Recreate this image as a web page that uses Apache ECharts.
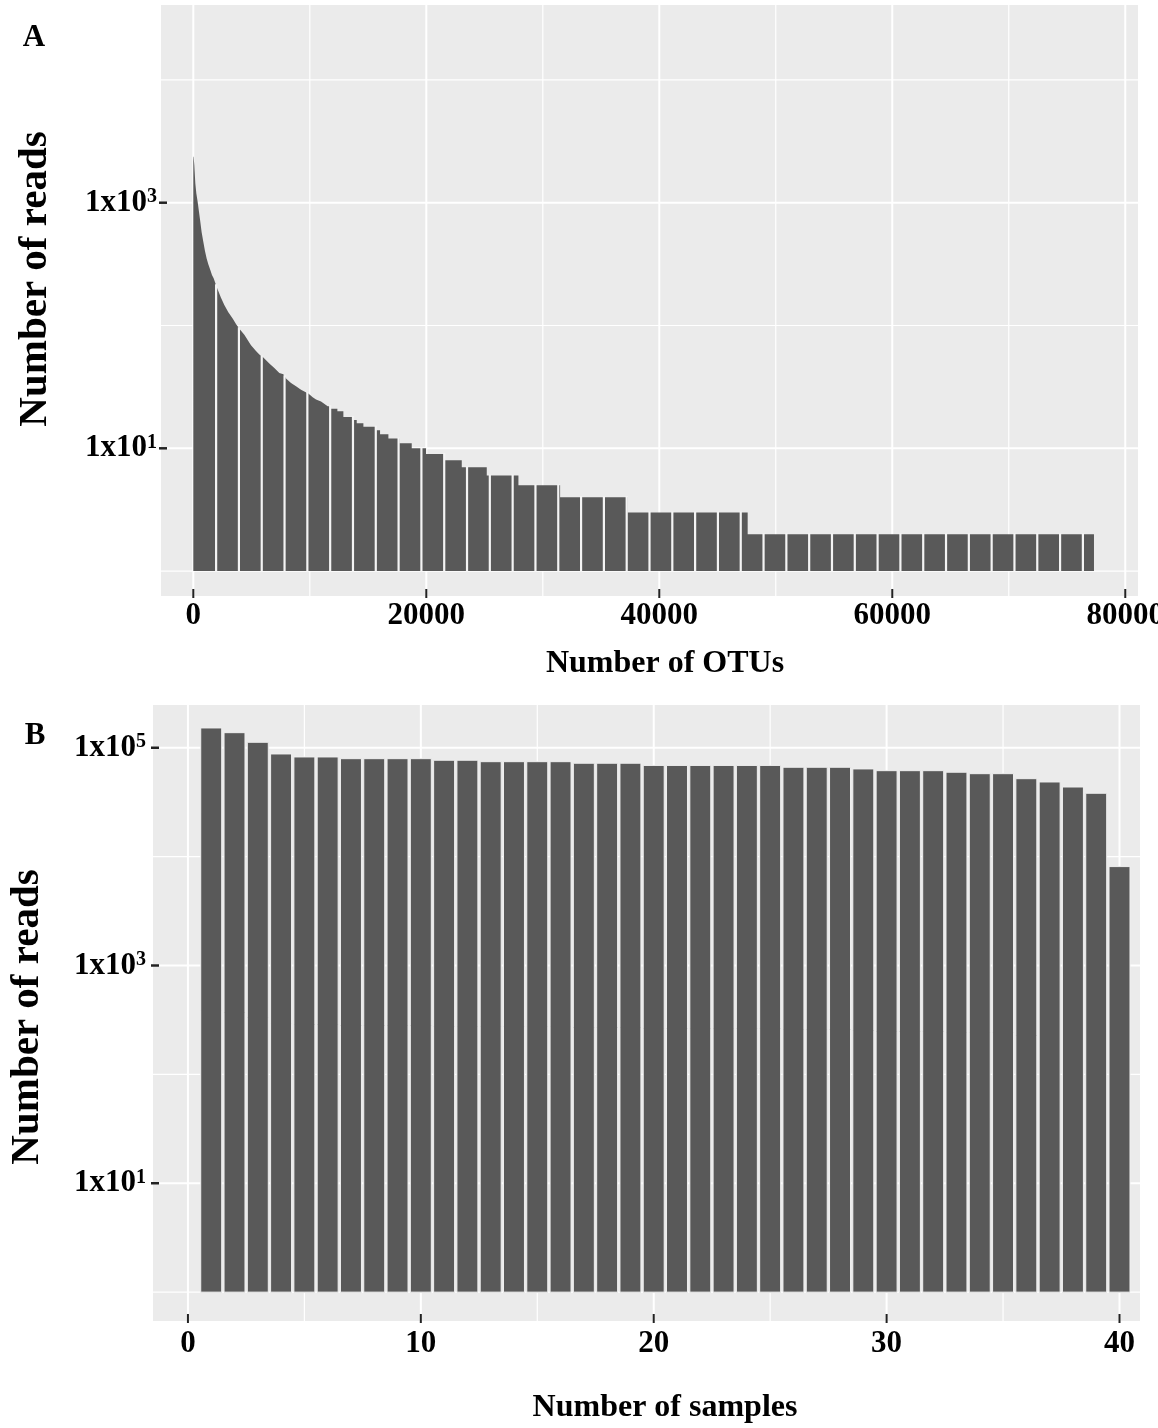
<!DOCTYPE html>
<html>
<head>
<meta charset="utf-8">
<script src="https://cdn.jsdelivr.net/npm/echarts@6/dist/echarts.min.js"></script>
<style>
html,body{margin:0;padding:0;background:#ffffff;}
#chart{width:1158px;height:1428px;}
</style>
</head>
<body>
<div id="chart"></div>
<script>
// ---------------- Panel A: rank-abundance of OTUs ----------------
// steep head of the curve: OTU rank -> number of reads
const otuHeadRanks = [0, 29, 86, 172, 258, 372, 487, 601, 716, 859, 1002, 1145, 1288, 1460, 1603, 1746,
  2032, 2376, 2662, 3006, 3378, 3664, 3950, 4380, 4952, 5381, 5668, 6011, 6526, 6956, 7385, 7729,
  7958, 8387, 8816, 9246, 9532, 9876, 10248, 10534, 10963, 11536, 11764];
const otuHeadReads = [2370, 2370, 2028, 1438, 1192, 1019, 845, 701, 574, 482, 404, 352, 315, 283, 258, 242,
  203, 168, 147, 128, 114, 103, 94, 84, 69, 62, 58, 55, 49, 45, 41, 40,
  37, 34, 32, 30, 29, 28, 26, 25, 24, 22, 22];
// flat tail: integer read counts and the OTU rank where each level ends
const otuTailReads = [21, 20, 18, 17, 16, 15, 14, 13, 12, 11, 10, 9, 8, 7, 6, 5, 4, 3, 2];
const otuTailEnds = [12367, 12882, 13713, 14028, 14600, 15688, 16031, 16747, 17691, 18750,
  19981, 21555, 23044, 25190, 27909, 31487, 37268, 47587, 77314];
const xTicksA = [0, 20000, 40000, 60000, 80000];
const xMinorA = [10000, 30000, 50000, 70000];
const yTicksA = [10, 1000];
const yMinorA = [1, 100, 10000];

// ---------------- Panel B: reads per sample ----------------
const samples = [1,2,3,4,5,6,7,8,9,10,11,12,13,14,15,16,17,18,19,20,
  21,22,23,24,25,26,27,28,29,30,31,32,33,34,35,36,37,38,39,40];
const sampleReads = [152000, 137600, 112300, 87700, 82300, 82300, 79400, 79400, 79400, 79400,
  76800, 76800, 74500, 74500, 74500, 74500, 72100, 72100, 72100, 68800,
  68800, 68800, 68800, 68800, 68800, 66200, 66200, 66200, 63900, 61600,
  61600, 61600, 59600, 57800, 57800, 52000, 48500, 43600, 38200, 8100];
const xTicksB = [0, 10, 20, 30, 40];
const xMinorB = [5, 15, 25, 35];
const yTicksB = [10, 1000, 100000];
const yMinorB = [1, 100, 10000];

// ---------------- styling ----------------
const FONT = '"Liberation Serif", "Times New Roman", serif';
const BAR = '#595959';
const BG = '#EBEBEB';
const TXT = '#000000';
const BLOCK = 1958;   // visual banding of the dense OTU bars (rendering artefact of the original)

// outline vertices of panel A
const outline = [];
for (let i = 0; i < otuHeadRanks.length; i++) outline.push([otuHeadRanks[i], otuHeadReads[i]]);
let prevEnd = otuHeadRanks[otuHeadRanks.length - 1];
for (let i = 0; i < otuTailReads.length; i++) {
  outline.push([prevEnd, otuTailReads[i]]);
  outline.push([otuTailEnds[i], otuTailReads[i]]);
  prevEnd = otuTailEnds[i];
}
function heightAt(r) {
  for (let i = outline.length - 1; i > 0; i--) {
    const a = outline[i - 1], b = outline[i];
    if (r >= a[0] && r <= b[0]) {
      if (b[0] === a[0]) return Math.max(a[1], b[1]);
      const t = (r - a[0]) / (b[0] - a[0]);
      return Math.pow(10, Math.log10(a[1]) + t * (Math.log10(b[1]) - Math.log10(a[1])));
    }
  }
  return 1;
}
const lastRank = otuTailEnds[otuTailEnds.length - 1];
const sepData = [];
for (let r = BLOCK; r < lastRank; r += BLOCK) sepData.push([r, heightAt(r)]);

function logLabel(list) {
  return function (v) {
    const l = Math.log10(v);
    const e = Math.round(l);
    if (Math.abs(l - e) > 1e-6 || list.indexOf(Math.pow(10, e)) < 0) return '';
    return '{b|1x10}{s|' + e + '}';
  };
}
function valLabel(list) {
  return function (v) { return list.indexOf(v) >= 0 ? String(v) : ''; };
}
const RICH = {
  b: {fontFamily: FONT, fontWeight: 'bold', fontSize: 31, color: TXT},
  s: {fontFamily: FONT, fontWeight: 'bold', fontSize: 20, color: TXT, verticalAlign: 'top'}
};

function vLines(gi, values, yBase, width, z) {
  return {
    type: 'custom', xAxisIndex: gi, yAxisIndex: gi, silent: true, z: z, animation: false,
    data: values.map(v => [v, yBase]),
    renderItem(params, api) {
      const cs = params.coordSys;
      const p = api.coord([api.value(0), api.value(1)]);
      return {type: 'line', shape: {x1: p[0], y1: cs.y, x2: p[0], y2: cs.y + cs.height},
        style: {stroke: '#ffffff', lineWidth: width}};
    }
  };
}
function hLines(gi, values, xBase, width, z) {
  return {
    type: 'custom', xAxisIndex: gi, yAxisIndex: gi, silent: true, z: z, animation: false,
    data: values.map(v => [xBase, v]),
    renderItem(params, api) {
      const cs = params.coordSys;
      const p = api.coord([api.value(0), api.value(1)]);
      return {type: 'line', shape: {x1: cs.x, y1: p[1], x2: cs.x + cs.width, y2: p[1]},
        style: {stroke: '#ffffff', lineWidth: width}};
    }
  };
}
function xTickMarks(gi, values, yBase) {
  return {
    type: 'custom', xAxisIndex: gi, yAxisIndex: gi, silent: true, z: 6, clip: false, animation: false,
    data: values.map(v => [v, yBase]),
    renderItem(params, api) {
      const cs = params.coordSys;
      const p = api.coord([api.value(0), api.value(1)]);
      const yb = cs.y + cs.height;
      return {type: 'line', shape: {x1: p[0], y1: yb - 7, x2: p[0], y2: yb + 2},
        style: {stroke: '#222222', lineWidth: 2}};
    }
  };
}
function yTickMarks(gi, values, xBase) {
  return {
    type: 'custom', xAxisIndex: gi, yAxisIndex: gi, silent: true, z: 6, clip: false, animation: false,
    data: values.map(v => [xBase, v]),
    renderItem(params, api) {
      const cs = params.coordSys;
      const p = api.coord([api.value(0), api.value(1)]);
      return {type: 'line', shape: {x1: cs.x - 2, y1: p[1], x2: cs.x + 6, y2: p[1]},
        style: {stroke: '#222222', lineWidth: 2.5}};
    }
  };
}

const chart = echarts.init(document.getElementById('chart'), null, {renderer: 'canvas'});
const option = {
  animation: false,
  backgroundColor: '#ffffff',
  grid: [
    {left: 161, top: 5, width: 977, height: 591, show: true, backgroundColor: BG, borderWidth: 0, containLabel: false, outerBoundsMode: 'none'},
    {left: 153, top: 705, width: 987, height: 616, show: true, backgroundColor: BG, borderWidth: 0, containLabel: false, outerBoundsMode: 'none'}
  ],
  xAxis: [
    {type: 'value', gridIndex: 0, min: -2773, max: 81093,
      axisLine: {show: false}, axisTick: {show: false}, splitLine: {show: false},
      axisLabel: {formatter: valLabel(xTicksA), fontFamily: FONT, fontWeight: 'bold', fontSize: 31, color: TXT, margin: 4}},
    {type: 'value', gridIndex: 1, min: -1.5, max: 40.88,
      axisLine: {show: false}, axisTick: {show: false}, splitLine: {show: false},
      axisLabel: {formatter: valLabel(xTicksB), fontFamily: FONT, fontWeight: 'bold', fontSize: 31, color: TXT, margin: 7}}
  ],
  yAxis: [
    {type: 'log', logBase: 10, gridIndex: 0, min: 0.627, max: 40738,
      axisLine: {show: false}, axisTick: {show: false}, splitLine: {show: false},
      axisLabel: {formatter: logLabel(yTicksA), rich: RICH, margin: 4}},
    {type: 'log', logBase: 10, gridIndex: 1, min: 0.543, max: 247000,
      axisLine: {show: false}, axisTick: {show: false}, splitLine: {show: false},
      axisLabel: {formatter: logLabel(yTicksB), rich: RICH, margin: 7}}
  ],
  series: [
    // panel A grid lines
    vLines(0, xMinorA, 1, 1.2, 1), vLines(0, xTicksA, 1, 2, 1),
    hLines(0, yMinorA, 0, 1.2, 1), hLines(0, yTicksA, 0, 2, 1),
    // panel A dense bars (outline)
    {
      type: 'custom', name: 'OTU reads', xAxisIndex: 0, yAxisIndex: 0, silent: true, z: 3, animation: false,
      data: outline, encode: {x: 0, y: 1},
      renderItem(params, api) {
        if (params.dataIndex !== 0) return null;
        const pts = outline.map(p => api.coord(p));
        pts.push(api.coord([outline[outline.length - 1][0], 1]));
        pts.push(api.coord([outline[0][0], 1]));
        return {type: 'polygon', shape: {points: pts}, style: {fill: BAR}};
      }
    },
    {
      type: 'custom', name: 'bands', xAxisIndex: 0, yAxisIndex: 0, silent: true, z: 4, animation: false,
      data: sepData, encode: {x: 0, y: 1},
      renderItem(params, api) {
        const r = api.value(0), v = api.value(1);
        const p0 = api.coord([r, 1]);
        const p1 = api.coord([r, v]);
        return {type: 'line', shape: {x1: p0[0], y1: p0[1] + 0.5, x2: p1[0], y2: p1[1] - 1},
          style: {stroke: '#f4f4f4', lineWidth: 2.2}};
      }
    },
    xTickMarks(0, xTicksA, 1), yTickMarks(0, yTicksA, 0),
    // panel B grid lines
    vLines(1, xMinorB, 1, 1.2, 1), vLines(1, xTicksB, 1, 2, 1),
    hLines(1, yMinorB, 0, 1.2, 1), hLines(1, yTicksB, 0, 2, 1),
    // panel B bars
    {
      type: 'custom', name: 'sample reads', xAxisIndex: 1, yAxisIndex: 1, silent: true, z: 3, animation: false,
      data: samples.map((s, i) => [s, sampleReads[i]]), encode: {x: 0, y: 1},
      renderItem(params, api) {
        const x = api.value(0), v = api.value(1);
        const p0 = api.coord([x - 0.45, v]);
        const p1 = api.coord([x + 0.45, 1]);
        return {type: 'rect', shape: {x: p0[0], y: p0[1], width: p1[0] - p0[0], height: p1[1] - p0[1]},
          style: {fill: BAR, stroke: '#eeeeee', lineWidth: 1}};
      }
    },
    xTickMarks(1, xTicksB, 1), yTickMarks(1, yTicksB, 0)
  ],
  graphic: [
    {type: 'text', x: 34, y: 38, style: {text: 'A', font: 'bold 31px ' + FONT, fill: TXT, align: 'center', verticalAlign: 'middle', textAlign: 'center', textVerticalAlign: 'middle'}},
    {type: 'text', x: 35, y: 736, style: {text: 'B', font: 'bold 31px ' + FONT, fill: TXT, align: 'center', verticalAlign: 'middle', textAlign: 'center', textVerticalAlign: 'middle'}},
    {type: 'text', x: 665, y: 664, style: {text: 'Number of OTUs', font: 'bold 32px ' + FONT, fill: TXT, align: 'center', verticalAlign: 'middle', textAlign: 'center', textVerticalAlign: 'middle'}},
    {type: 'text', x: 665, y: 1408, style: {text: 'Number of samples', font: 'bold 32px ' + FONT, fill: TXT, align: 'center', verticalAlign: 'middle', textAlign: 'center', textVerticalAlign: 'middle'}},
    {type: 'text', x: 35, y: 279, rotation: Math.PI / 2, style: {text: 'Number of reads', font: 'bold 41px ' + FONT, fill: TXT, align: 'center', verticalAlign: 'middle', textAlign: 'center', textVerticalAlign: 'middle'}},
    {type: 'text', x: 27, y: 1017, rotation: Math.PI / 2, style: {text: 'Number of reads', font: 'bold 41px ' + FONT, fill: TXT, align: 'center', verticalAlign: 'middle', textAlign: 'center', textVerticalAlign: 'middle'}}
  ]
};
chart.setOption(option);
</script>
</body>
</html>
